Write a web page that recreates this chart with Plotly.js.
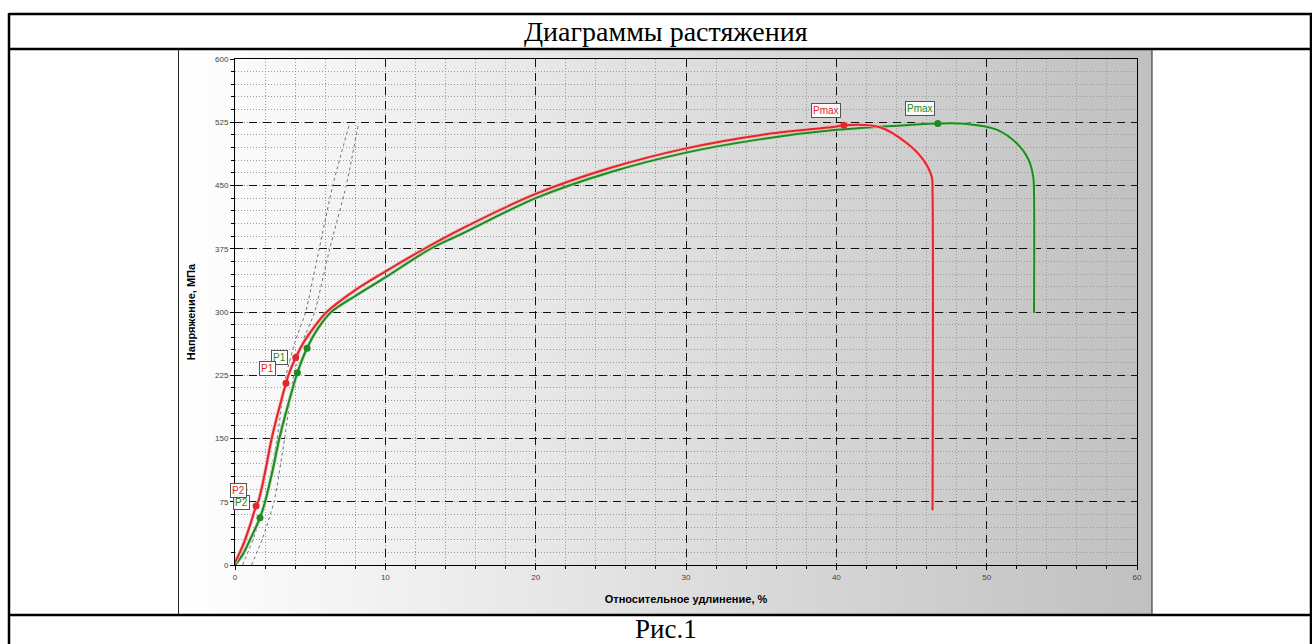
<!DOCTYPE html>
<html><head><meta charset="utf-8">
<script src="https://cdn.plot.ly/plotly-3.0.1.min.js"></script>
<style>
body{margin:0;background:#fff;}
#wrap{position:relative;width:1312px;height:644px;overflow:hidden;}
#bg{position:absolute;left:178px;top:49px;width:974px;height:565px;background:linear-gradient(to right,#ffffff 0%,#f8f8f8 10%,#c0c0c0 100%);}
#chart{position:absolute;left:0;top:0;width:1312px;height:644px;}
</style></head><body>
<div id="wrap"><div id="bg"></div><div id="chart"></div></div>
<script>
// ---- data ----
const redStrain  = [0, 0.5, 1.0, 1.4, 1.58, 2.0, 2.44, 3.0, 3.39, 3.55, 4.04, 4.6, 5.3, 6.1, 8, 10, 12.6, 15, 20, 25, 30, 35, 40, 40.5, 42.9, 44.7, 45.8, 46.35, 46.4, 46.4];
const redStress  = [3, 22, 47, 70, 77, 110, 150, 190, 215.5, 225, 246, 265, 283, 300, 326, 348, 375, 398, 440, 471, 494, 510, 520, 521.5, 519, 500, 480, 460, 440, 65];
const greenStrain = [0, 0.5, 1.0, 1.66, 2.0, 2.5, 2.95, 3.5, 4.15, 4.79, 5.5, 6.4, 8, 10, 13, 15, 20, 25, 30, 35, 40, 45, 46.75, 48.7, 50.7, 52.0, 52.8, 53.1, 53.15, 53.15];
const greenStress = [0, 12, 30, 56, 75, 112, 150, 188, 228, 257, 280, 300, 319, 341, 375, 392, 435, 466, 489, 505, 516, 522, 523.5, 523, 516, 500, 480, 460, 440, 299];
const redPtStrain  = [1.40, 3.39, 4.04, 40.5];
const redPtStress  = [70, 215.5, 246, 521.5];
const redPtLabels  = ['P2', 'P1', '', 'Pmax'];
const greenPtStrain = [1.66, 4.15, 4.79, 46.75];
const greenPtStress = [56, 228, 257, 523.5];
const greenPtLabels = ['P2', 'P1', '', 'Pmax'];
const grayAStrain = [0.5, 1.2, 2.0, 2.8, 3.4, 4.0, 4.7, 5.6, 6.5, 7.6];
const grayAStress = [0, 30, 75, 150, 225, 265, 300, 375, 450, 522];
const grayBStrain = [1.1, 1.8, 2.6, 3.3, 3.9, 4.5, 5.3, 6.3, 7.4, 8.2];
const grayBStress = [0, 30, 75, 150, 225, 265, 300, 375, 450, 522];
const xTicks = [0, 10, 20, 30, 40, 50, 60];
const yTicks = [0, 75, 150, 225, 300, 375, 450, 525, 600];
const titleText = 'Диаграммы растяжения';
const captionText = 'Рис.1';
const xTitle = 'Относительное удлинение, %';
const yTitle = 'Напряжение, МПа';

const W = 1312, H = 644;
const px = v => v / W, py = v => 1 - v / H;
const RED = '#e3262b', GREEN = '#1f8a22';

const traces = [
  {x: grayAStrain, y: grayAStress, mode: 'lines', line: {color: '#707070', width: 1, dash: '3px,3px', shape: 'spline', smoothing: 0.5}},
  {x: grayBStrain, y: grayBStress, mode: 'lines', line: {color: '#707070', width: 1, dash: '3px,3px', shape: 'spline', smoothing: 0.5}},
  {x: greenStrain, y: greenStress, mode: 'lines', line: {color: '#b9dbb9', width: 3.5, shape: 'spline', smoothing: 0.9}},
  {x: greenStrain, y: greenStress, mode: 'lines', line: {color: GREEN, width: 2, shape: 'spline', smoothing: 0.9}},
  {x: redStrain, y: redStress, mode: 'lines', line: {color: '#f3b7b7', width: 3.5, shape: 'spline', smoothing: 0.9}},
  {x: redStrain, y: redStress, mode: 'lines', line: {color: RED, width: 2, shape: 'spline', smoothing: 0.9}},
  {x: redPtStrain, y: redPtStress, mode: 'markers', marker: {color: RED, size: 7}},
  {x: greenPtStrain, y: greenPtStress, mode: 'markers', marker: {color: GREEN, size: 7}}
];

function pointLabels(xs, ys, labels, color) {
  const out = [];
  labels.forEach((t, i) => {
    if (!t) return;
    out.push({x: xs[i], y: ys[i], xref: 'x', yref: 'y', text: t, showarrow: true,
      arrowcolor: 'rgba(0,0,0,0)', ax: -18, ay: -15,
      font: {family: 'Liberation Sans, Arial', size: 10, color: color},
      bgcolor: 'rgba(255,255,255,0.9)', bordercolor: '#555', borderwidth: 1, borderpad: 1});
  });
  return out;
}

const annotations = [
  {x: px(666), y: py(31), xref: 'paper', yref: 'paper', xanchor: 'center', yanchor: 'middle', text: titleText, showarrow: false,
   font: {family: 'Liberation Serif, Times New Roman', size: 28, color: '#000'}},
  {x: px(666), y: py(629), xref: 'paper', yref: 'paper', xanchor: 'center', yanchor: 'middle', text: captionText, showarrow: false,
   font: {family: 'Liberation Serif, Times New Roman', size: 27, color: '#000'}}
].concat(pointLabels(greenPtStrain, greenPtStress, greenPtLabels, GREEN))
 .concat(pointLabels(redPtStrain, redPtStress, redPtLabels, RED));

function hline(y, x0, x1, w, c) { return {type: 'line', xref: 'paper', yref: 'paper', x0: px(x0), x1: px(x1), y0: py(y), y1: py(y), line: {color: c || '#000', width: w}}; }
function vline(x, y0, y1, w, c) { return {type: 'line', xref: 'paper', yref: 'paper', x0: px(x), x1: px(x), y0: py(y0), y1: py(y1), line: {color: c || '#000', width: w}}; }

const shapes = [
  hline(14, 9, 1312, 2.5), hline(49, 9, 1312, 2.5), hline(615, 9, 1312, 2.5),
  vline(9, 13, 644, 2.5), vline(1311, 13, 644, 2.5),
  vline(178.5, 49, 614, 1, '#222'), vline(1152, 49, 614, 1, '#222')
];

const tickFont = {family: 'Liberation Sans, Arial', size: 8, color: '#444'};
const axTitleFont = {family: 'Liberation Sans, Arial', size: 11, color: '#000', weight: 'bold'};

const layout = {
  width: W, height: H, margin: {l: 0, r: 0, t: 0, b: 0},
  paper_bgcolor: 'rgba(0,0,0,0)', plot_bgcolor: 'rgba(0,0,0,0)',
  showlegend: false, hovermode: false,
  xaxis: {domain: [235 / W, 1137 / W], range: [0, 60], tickvals: xTicks, ticktext: xTicks.map(String),
    showgrid: true, gridcolor: '#111', griddash: '8px,6px', gridwidth: 1,
    minor: {dtick: 2, tick0: 0, showgrid: true, gridcolor: '#9a9a9a', griddash: '1px,2px', gridwidth: 1, ticks: 'outside', ticklen: 3, tickcolor: '#000'},
    ticks: 'outside', ticklen: 4, tickcolor: '#000', showline: true, linecolor: '#000', linewidth: 1, mirror: true,
    zeroline: false, automargin: false, tickfont: tickFont,
    title: {text: xTitle, font: axTitleFont, standoff: 14}},
  yaxis: {domain: [1 - 565 / H, 1 - 59 / H], range: [0, 600], tickvals: yTicks, ticktext: yTicks.map(String),
    showgrid: true, gridcolor: '#111', griddash: '8px,6px', gridwidth: 1,
    minor: {dtick: 15, tick0: 0, showgrid: true, gridcolor: '#9a9a9a', griddash: '1px,2px', gridwidth: 1, ticks: 'outside', ticklen: 3, tickcolor: '#000'},
    ticks: 'outside', ticklen: 4, tickcolor: '#000', showline: true, linecolor: '#000', linewidth: 1, mirror: true,
    zeroline: false, automargin: false, tickfont: tickFont,
    title: {text: yTitle, font: axTitleFont, standoff: 17}},
  annotations: annotations,
  shapes: shapes
};

Plotly.newPlot('chart', traces, layout, {staticPlot: true, displayModeBar: false});
</script>
</body></html>
